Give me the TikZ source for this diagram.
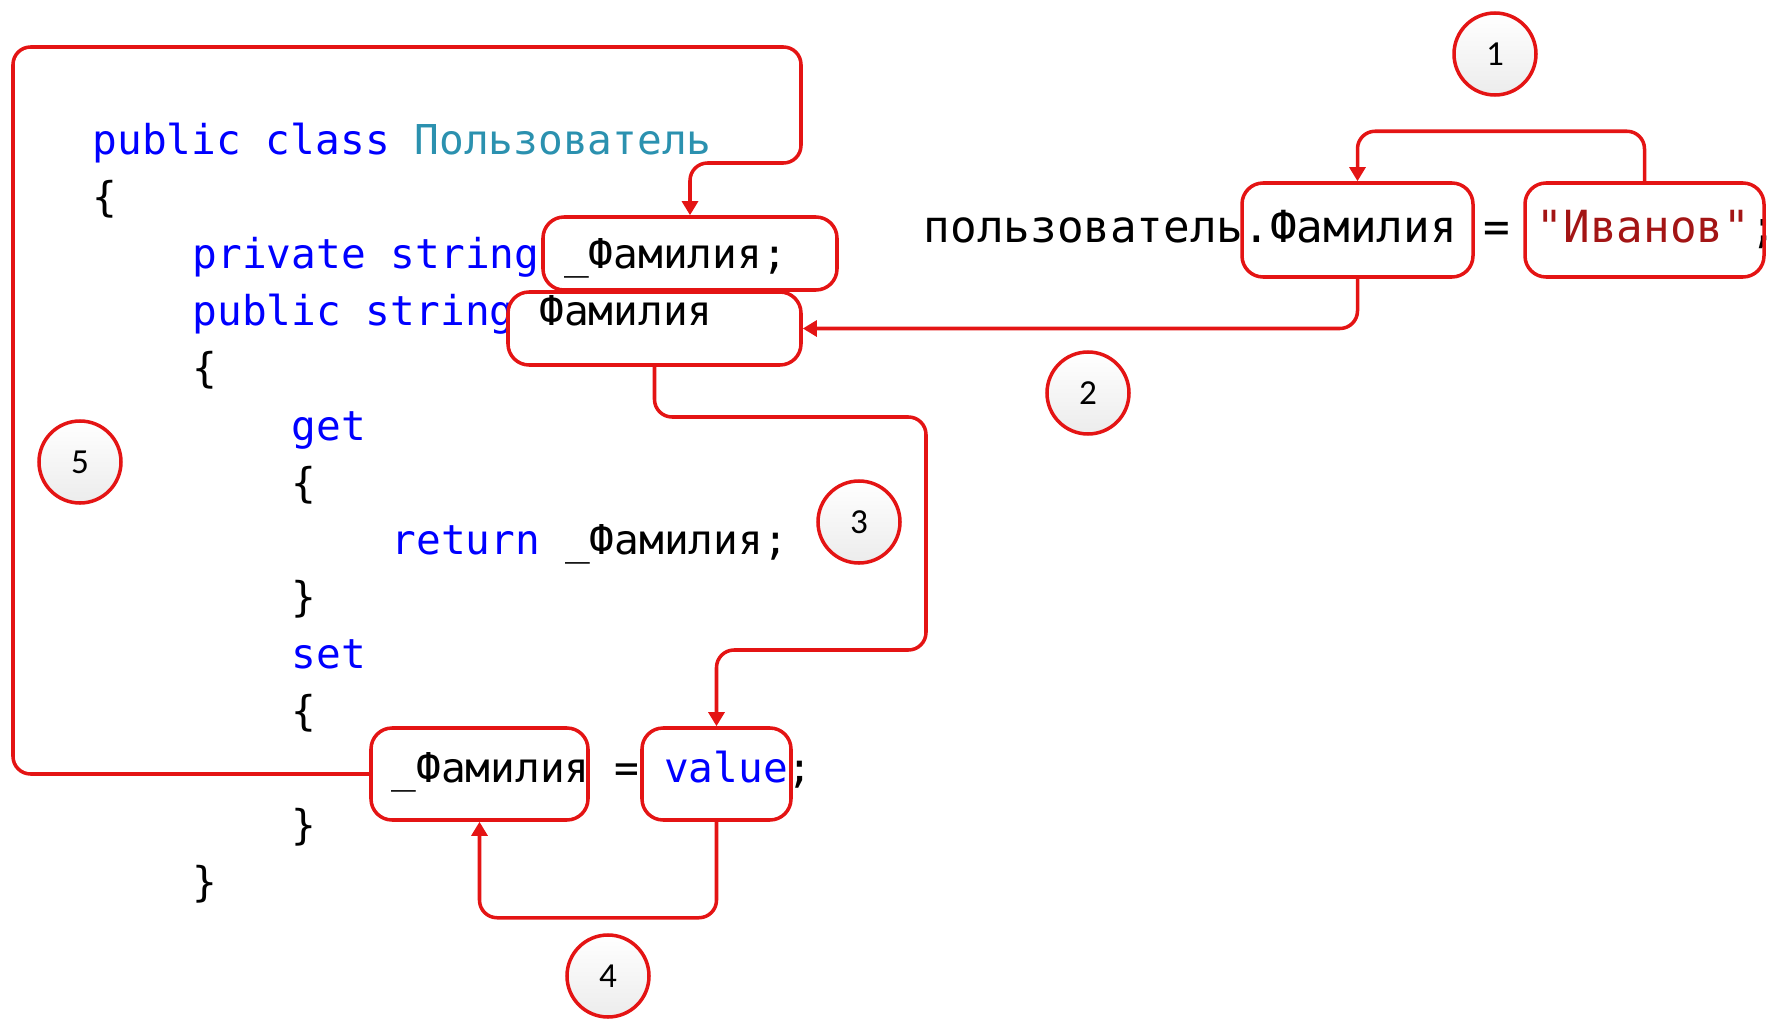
\documentclass[tikz,border=0pt]{standalone}
\usepackage{fontspec}
\newfontfamily\codefont{DejaVu Sans Mono}
\newfontfamily\numfont{Carlito}
\usetikzlibrary{arrows.meta}
\definecolor{kw}{RGB}{0,0,255}
\definecolor{typ}{RGB}{43,145,175}
\definecolor{str}{RGB}{163,21,21}
\definecolor{redline}{RGB}{228,20,20}
\tikzset{
  codeline/.style={anchor=base west, inner sep=0pt, font=\codefont\fontsize{11.7}{14}\selectfont},
  markbox/.style={draw=redline, line width=1pt, rounded corners=6pt, inner sep=0pt},
  numcirc/.style={circle, draw=redline, line width=1pt, minimum size=0.82cm, inner sep=0pt,
    top color=white, bottom color=gray!15, font=\numfont\fontsize{10}{12}\selectfont},
  flowarrow/.style={draw=redline, line width=1pt, rounded corners=5pt, -{Triangle[length=4pt,width=4.5pt]}},
}
\begin{document}
\begin{tikzpicture}
  \useasboundingbox (0,0) rectangle (17.83,-10.19);
  % класс со свойством
  \node[codeline] (cls) at (0.92,-1.54) {\textcolor{kw}{public class} \textcolor{typ}{Пользователь}};
  \node[codeline] (ob1) at (0.92,-2.11) {\{};
  \node[codeline] (fld) at (1.92,-2.68) {\textcolor{kw}{private string} \_Фамилия;};
  \node[codeline] (prp) at (1.92,-3.25) {\textcolor{kw}{public string} Фамилия};
  \node[codeline] (ob2) at (1.92,-3.82) {\{};
  \node[codeline] (get) at (2.91,-4.40) {\textcolor{kw}{get}};
  \node[codeline] (ob3) at (2.91,-4.97) {\{};
  \node[codeline] (ret) at (3.91,-5.54) {\textcolor{kw}{return} \_Фамилия;};
  \node[codeline] (cb3) at (2.91,-6.11) {\}};
  \node[codeline] (set) at (2.91,-6.68) {\textcolor{kw}{set}};
  \node[codeline] (ob4) at (2.91,-7.25) {\{};
  \node[codeline] (asg) at (3.91,-7.82) {\_Фамилия = \textcolor{kw}{value};};
  \node[codeline] (cb4) at (2.91,-8.39) {\}};
  \node[codeline] (cb2) at (1.92,-8.96) {\}};
  % присваивание снаружи
  \node[codeline, font=\codefont\fontsize{12.6}{15}\selectfont] (usr) at (9.23,-2.42)
    {пользователь.Фамилия = \textcolor{str}{"Иванов"};};

  % рамки
  \node[markbox, minimum width=2.94cm, minimum height=0.73cm] (fbox) at (6.900,-2.535) {};
  \node[markbox, minimum width=2.93cm, minimum height=0.73cm] (pbox) at (6.545,-3.285) {};
  \node[markbox, minimum width=2.31cm, minimum height=0.94cm] (cbox) at (13.575,-2.30) {};
  \node[markbox, minimum width=2.39cm, minimum height=0.94cm] (dbox) at (16.445,-2.30) {};
  \node[markbox, minimum width=2.17cm, minimum height=0.92cm] (ebox) at (4.795,-7.74) {};
  \node[markbox, minimum width=1.49cm, minimum height=0.92cm] (vbox) at (7.165,-7.74) {};

  % номера шагов
  \node[numcirc] (n1) at (14.95,-0.54) {1};
  \node[numcirc] (n2) at (10.88,-3.93) {2};
  \node[numcirc] (n3) at (8.59,-5.22) {3};
  \node[numcirc] (n4) at (6.08,-9.76) {4};
  \node[numcirc] (n5) at (0.80,-4.62) {5};

  % стрелки
  \draw[flowarrow] (dbox.north) -- ++(0,0.50) -| (cbox.north);
  \draw[flowarrow] (cbox.south) |- (pbox.east);
  \draw[flowarrow] (pbox.south) |- (9.26,-4.17) -- (9.26,-6.50) -| (vbox.north);
  \draw[flowarrow] (vbox.south) -- ++(0,-0.96) -| (ebox.south);
  \draw[flowarrow] (ebox.west) -| (0.13,-0.47) -- (8.01,-0.47) -- (8.01,-1.63) -| (fbox.north);
\end{tikzpicture}
\end{document}
